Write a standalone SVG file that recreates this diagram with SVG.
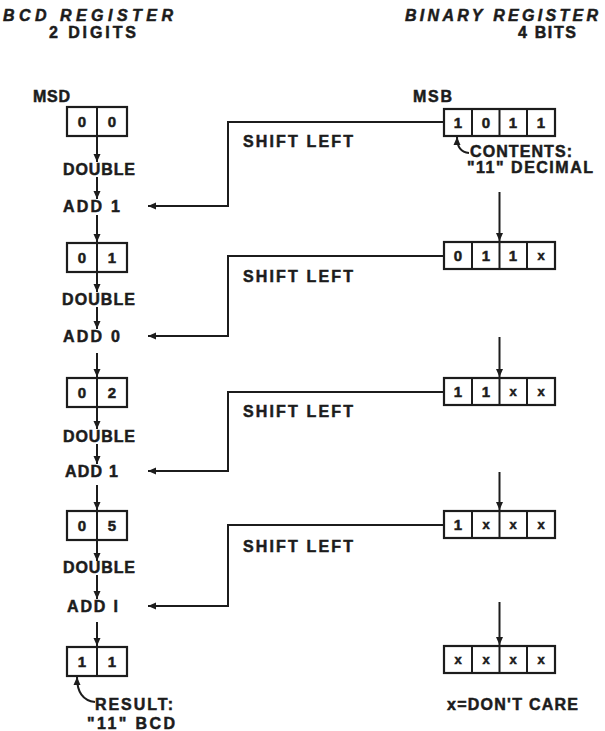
<svg xmlns="http://www.w3.org/2000/svg" width="605" height="731" viewBox="0 0 605 731">
<defs>
<style>
.t{font-family:"Liberation Sans",Arial,sans-serif;font-weight:bold;font-size:16px;fill:#1c1c1c;stroke:#1c1c1c;stroke-width:0.5px;}
.h{font-style:italic;}
.d{text-anchor:middle;font-size:15px;}
.x{text-anchor:middle;font-size:13px;}
.box{fill:#fff;stroke:#1c1c1c;stroke-width:2.2;}
.ln{fill:none;stroke:#1c1c1c;stroke-width:2;}
.ar{fill:none;stroke:#1c1c1c;stroke-width:2;marker-end:url(#ah);}
</style>
<marker id="ah" markerUnits="userSpaceOnUse" markerWidth="9" markerHeight="8" refX="8" refY="4" orient="auto">
<path d="M0,0.5 L8,4 L0,7.5 z" fill="#1c1c1c"/>
</marker>
</defs>
<rect width="605" height="731" fill="#fff"/>

<g id="headers">
<text class="t h" x="3" y="21" textLength="170" lengthAdjust="spacing">BCD REGISTER</text>
<text class="t" x="49" y="38" textLength="87" lengthAdjust="spacing">2 DIGITS</text>
<text class="t h" x="405" y="21" textLength="193" lengthAdjust="spacing">BINARY REGISTER</text>
<text class="t" x="518" y="38" textLength="58" lengthAdjust="spacing">4 BITS</text>
</g>

<g id="msd-label"><text class="t" x="33" y="102" textLength="37" lengthAdjust="spacing">MSD</text></g>
<g id="msb-label"><text class="t" x="413" y="102" textLength="39" lengthAdjust="spacing">MSB</text></g>

<g id="bcd1"><rect class="box" x="67" y="107" width="60" height="29"/><line class="ln" x1="97" y1="107" x2="97" y2="136"/><text class="t d" x="82" y="127">0</text><text class="t d" x="112" y="127">0</text></g>
<g id="bcd2"><rect class="box" x="67" y="243" width="60" height="29"/><line class="ln" x1="97" y1="243" x2="97" y2="272"/><text class="t d" x="82" y="263">0</text><text class="t d" x="112" y="263">1</text></g>
<g id="bcd3"><rect class="box" x="67" y="378" width="60" height="29"/><line class="ln" x1="97" y1="378" x2="97" y2="407"/><text class="t d" x="82" y="398">0</text><text class="t d" x="112" y="398">2</text></g>
<g id="bcd4"><rect class="box" x="67" y="511" width="60" height="29"/><line class="ln" x1="97" y1="511" x2="97" y2="540"/><text class="t d" x="82" y="531">0</text><text class="t d" x="112" y="531">5</text></g>
<g id="bcd5"><rect class="box" x="67" y="647" width="60" height="29"/><line class="ln" x1="97" y1="647" x2="97" y2="676"/><text class="t d" x="82" y="667">1</text><text class="t d" x="112" y="667">1</text></g>

<g id="op1a"><text class="t" x="63" y="175" textLength="72" lengthAdjust="spacing">DOUBLE</text></g>
<g id="op1b"><text class="t" x="63" y="212" textLength="57" lengthAdjust="spacing">ADD 1</text></g>
<g id="op2a"><text class="t" x="62" y="305" textLength="73" lengthAdjust="spacing">DOUBLE</text></g>
<g id="op2b"><text class="t" x="63" y="342" textLength="57" lengthAdjust="spacing">ADD 0</text></g>
<g id="op3a"><text class="t" x="63" y="442" textLength="72" lengthAdjust="spacing">DOUBLE</text></g>
<g id="op3b"><text class="t" x="65" y="477" textLength="53" lengthAdjust="spacing">ADD 1</text></g>
<g id="op4a"><text class="t" x="63" y="573" textLength="72" lengthAdjust="spacing">DOUBLE</text></g>
<g id="op4b"><text class="t" x="67" y="612" textLength="51" lengthAdjust="spacing">ADD I</text></g>

<g id="bin1"><rect class="box" x="444" y="109" width="111" height="27"/><path class="ln" d="M472,109V136M499.5,109V136M527,109V136"/><text class="t d" x="458" y="128">1</text><text class="t d" x="486" y="128">0</text><text class="t d" x="513" y="128">1</text><text class="t d" x="541" y="128">1</text></g>
<g id="bin2"><rect class="box" x="444" y="242" width="111" height="27"/><path class="ln" d="M472,242V269M499.5,242V269M527,242V269"/><text class="t d" x="458" y="261">0</text><text class="t d" x="486" y="261">1</text><text class="t d" x="513" y="261">1</text><text class="t x" x="541" y="260">x</text></g>
<g id="bin3"><rect class="box" x="444" y="378" width="111" height="27"/><path class="ln" d="M472,378V405M499.5,378V405M527,378V405"/><text class="t d" x="458" y="397">1</text><text class="t d" x="486" y="397">1</text><text class="t x" x="513" y="396">x</text><text class="t x" x="541" y="396">x</text></g>
<g id="bin4"><rect class="box" x="444" y="511" width="111" height="27"/><path class="ln" d="M472,511V538M499.5,511V538M527,511V538"/><text class="t d" x="458" y="530">1</text><text class="t x" x="486" y="529">x</text><text class="t x" x="513" y="529">x</text><text class="t x" x="541" y="529">x</text></g>
<g id="bin5"><rect class="box" x="444" y="646" width="111" height="27"/><path class="ln" d="M472,646V673M499.5,646V673M527,646V673"/><text class="t x" x="458" y="664">x</text><text class="t x" x="486" y="664">x</text><text class="t x" x="513" y="664">x</text><text class="t x" x="541" y="664">x</text></g>

<g id="shift-labels">
<text class="t" x="243" y="147" textLength="110" lengthAdjust="spacing">SHIFT LEFT</text>
<text class="t" x="243" y="282" textLength="110" lengthAdjust="spacing">SHIFT LEFT</text>
<text class="t" x="243" y="417" textLength="110" lengthAdjust="spacing">SHIFT LEFT</text>
<text class="t" x="243" y="552" textLength="110" lengthAdjust="spacing">SHIFT LEFT</text>
</g>

<g id="notes">
<text class="t" x="470" y="157" textLength="102" lengthAdjust="spacing">CONTENTS:</text>
<text class="t" x="467" y="173" textLength="126" lengthAdjust="spacing">"11" DECIMAL</text>
<text class="t" x="447" y="710" textLength="131" lengthAdjust="spacing">x=DON'T CARE</text>
<text class="t" x="95" y="710" textLength="78" lengthAdjust="spacing">RESULT:</text>
<text class="t" x="87" y="729" textLength="88" lengthAdjust="spacing">"11" BCD</text>
</g>

<g id="connectors">
<line class="ar" x1="97" y1="136" x2="97" y2="162"/>
<line class="ar" x1="97" y1="177" x2="97" y2="199"/>
<line class="ar" x1="97" y1="215" x2="97" y2="242"/>
<line class="ar" x1="97" y1="272" x2="97" y2="292"/>
<line class="ar" x1="97" y1="307" x2="97" y2="329"/>
<line class="ar" x1="97" y1="353" x2="97" y2="377"/>
<line class="ar" x1="97" y1="407" x2="97" y2="429"/>
<line class="ar" x1="97" y1="444" x2="97" y2="464"/>
<line class="ar" x1="97" y1="485" x2="97" y2="510"/>
<line class="ar" x1="97" y1="540" x2="97" y2="561"/>
<line class="ar" x1="97" y1="575" x2="97" y2="599"/>
<line class="ar" x1="97" y1="622" x2="97" y2="646"/>
<path class="ar" d="M444,122H228V206H148"/>
<path class="ar" d="M444,256H228V336H148"/>
<path class="ar" d="M444,392H228V471H148"/>
<path class="ar" d="M444,525H228V606H148"/>
<line class="ar" x1="499.5" y1="192" x2="499.5" y2="241"/>
<line class="ar" x1="499.5" y1="337" x2="499.5" y2="377"/>
<line class="ar" x1="499.5" y1="472" x2="499.5" y2="510"/>
<line class="ar" x1="499.5" y1="602" x2="499.5" y2="645"/>
<path class="ar" d="M469,153Q457,152 457,137"/>
<path class="ar" d="M95,702Q77,700 77,677"/>
</g>
</svg>
